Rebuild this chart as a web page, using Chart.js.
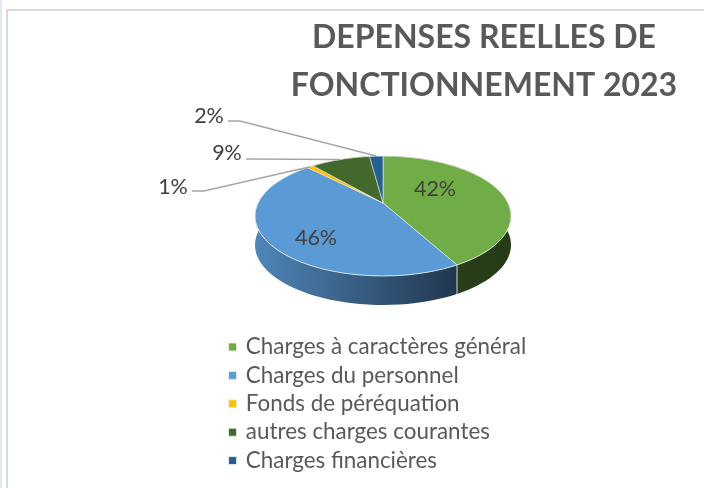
<!DOCTYPE html>
<html><head><meta charset="utf-8">
<style>html,body{margin:0;padding:0;background:#fff}canvas{display:block}</style>
<script src="https://cdn.jsdelivr.net/npm/chart.js@4"></script>
</head><body><canvas id="c" width="704" height="488"></canvas>
<script>
const titleLines = ['DEPENSES REELLES DE', 'FONCTIONNEMENT 2023'];
const categories = ['Charges à caractères général', 'Charges du personnel', 'Fonds de péréquation', 'autres charges courantes', 'Charges financières'];
const values = [42.3, 45.7, 1, 9, 2];
const percentLabels = ['42%', '46%', '1%', '9%', '2%'];
const sliceColors = ['#70ad47', '#5b9bd5', '#ffc000', '#43682b', '#255e91'];
const sideColorsLeft = ['#2d461c', '#4f86b8', '#a67c00', '#2b431c', '#18405f'];
const sideColorsRight = ['#263c17', '#20364f', '#a67c00', '#2b431c', '#18405f'];

const FONT = 'Lato, Carlito, "Open Sans", sans-serif';
const view = { cx: 383, cy: 216, rx: 128, ry: 60, depth: 29, squash: 0.44 };
const inner = { 0: [435, 189], 1: [316, 238] };
const outer = {
  2: { text: [173, 187], elbow: [[192, 191], [204, 191]] },
  3: { text: [227, 153], elbow: [[246, 159]] },
  4: { text: [209, 116], elbow: [[228, 121], [240, 121]] }
};

function rim(arc, ang) {
  const dx = Math.cos(ang), dy = view.squash * Math.sin(ang);
  const ox = arc.x - view.cx, oy = arc.y - view.cy;
  const A = dx * dx / (view.rx * view.rx) + dy * dy / (view.ry * view.ry);
  const B = 2 * (ox * dx / (view.rx * view.rx) + oy * dy / (view.ry * view.ry));
  const C = ox * ox / (view.rx * view.rx) + oy * oy / (view.ry * view.ry) - 1;
  const t = (-B + Math.sqrt(B * B - 4 * A * C)) / (2 * A);
  return [arc.x + t * dx, arc.y + t * dy];
}

const pie3d = {
  id: 'pie3d',
  beforeDraw(chart) {
    const c = chart.ctx;
    c.save();
    c.fillStyle = '#fff'; c.fillRect(0, 0, 704, 488);
    c.fillStyle = '#dfe8f6'; c.fillRect(0, 0, 2, 488);
    c.fillStyle = '#d9d9d9';
    c.fillRect(6, 9, 698, 2);
    c.fillRect(6, 9, 2, 479);
    c.restore();
  },
  afterLayout(chart) {
    const lg = chart.legend;
    lg.left = 224.6; lg.right = 600; lg.top = 329.8; lg.bottom = 560;
    const tb = chart.titleBlock;
    tb.left = 284; tb.right = 684; tb.top = 14; tb.bottom = 110;
  },
  beforeDatasetsDraw(chart) {
    const c = chart.ctx, arcs = chart.getDatasetMeta(0).data;
    c.save();
    arcs.forEach((arc, i) => {
      const n = 60, pts = [];
      for (let k = 0; k <= n; k++) pts.push(rim(arc, arc.startAngle + (arc.endAngle - arc.startAngle) * k / n));
      const g = c.createLinearGradient(view.cx - view.rx, 0, Math.max(...pts.map(p => p[0])), 0);
      g.addColorStop(0, sideColorsLeft[i]); g.addColorStop(1, sideColorsRight[i]);
      c.beginPath();
      pts.forEach((p, k) => k ? c.lineTo(p[0], p[1]) : c.moveTo(p[0], p[1]));
      pts.slice().reverse().forEach(p => c.lineTo(p[0], p[1] + view.depth));
      c.closePath();
      c.fillStyle = g; c.fill();
    });
    arcs.forEach(arc => {
      const p = rim(arc, arc.startAngle);
      c.beginPath(); c.moveTo(p[0], p[1]); c.lineTo(p[0], p[1] + view.depth);
      c.strokeStyle = 'rgba(235,240,235,.85)'; c.lineWidth = 1; c.stroke();
    });
    c.beginPath();
    c.ellipse(view.cx, view.cy, view.rx, view.ry, 0, 0, Math.PI * 2);
    c.clip();
    const a = arcs[0];
    c.translate(a.x, a.y); c.scale(1, view.squash); c.translate(-a.x, -a.y);
  },
  afterDatasetsDraw(chart) {
    const c = chart.ctx, arcs = chart.getDatasetMeta(0).data;
    c.restore();
    c.save();
    c.beginPath();
    c.ellipse(view.cx, view.cy, view.rx, view.ry, 0, 0, Math.PI * 2);
    c.strokeStyle = 'rgba(235,240,235,.8)'; c.lineWidth = 1; c.stroke();
    c.strokeStyle = '#a6a6a6'; c.lineWidth = 1.5;
    Object.keys(outer).forEach(i => {
      const arc = arcs[i], end = rim(arc, (arc.startAngle + arc.endAngle) / 2);
      c.beginPath();
      outer[i].elbow.forEach((p, k) => k ? c.lineTo(p[0], p[1]) : c.moveTo(p[0], p[1]));
      c.lineTo(end[0], end[1]); c.stroke();
    });
    c.fillStyle = '#404040';
    c.font = '21.5px ' + FONT; c.textAlign = 'center'; c.textBaseline = 'middle';
    Object.keys(inner).forEach(i => c.fillText(percentLabels[i], inner[i][0], inner[i][1]));
    Object.keys(outer).forEach(i => c.fillText(percentLabels[i], outer[i].text[0], outer[i].text[1]));
    c.restore();
  }
};

new Chart(document.getElementById('c'), {
  type: 'pie',
  data: { labels: categories, datasets: [{ data: values, backgroundColor: sliceColors, borderColor: 'rgba(240,245,240,.8)', borderWidth: 1, clip: false }] },
  plugins: [pie3d],
  options: {
    responsive: false, animation: false,
    layout: { padding: { left: 213, right: 151, top: 33, bottom: 19 } },
    plugins: {
      tooltip: { enabled: false },
      title: { display: true, position: 'bottom', text: titleLines, color: '#595959', padding: 0,
        font: { family: FONT, size: 32, weight: 'bold', lineHeight: 48 / 32 } },
      legend: { display: true, position: 'chartArea', align: 'start',
        labels: { usePointStyle: true, pointStyle: 'rect', boxWidth: 4, boxHeight: 8, color: '#595959', padding: 6, font: { family: FONT, size: 22.4 } } }
    }
  }
});
</script></body></html>
